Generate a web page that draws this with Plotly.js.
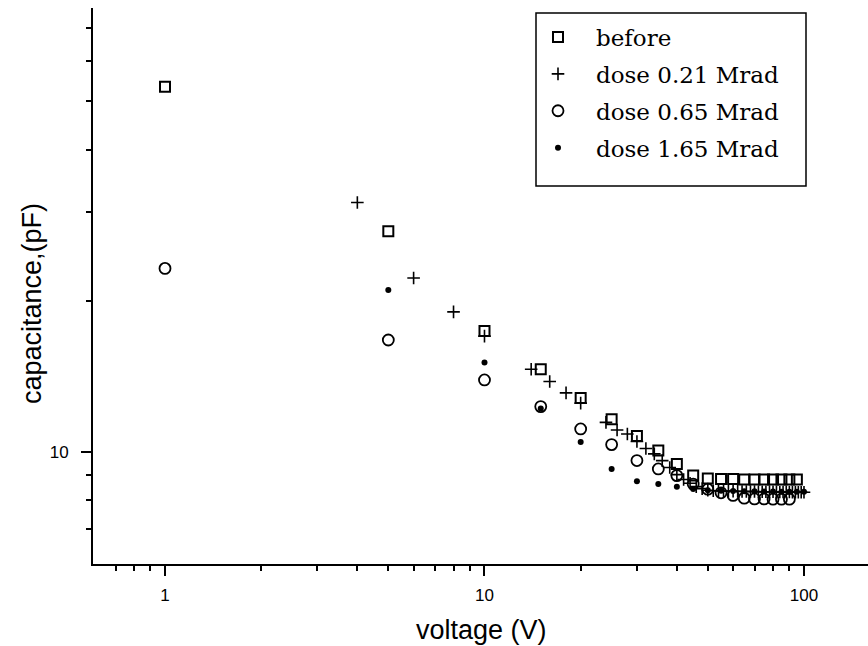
<!DOCTYPE html>
<html><head><meta charset="utf-8">
<script src="https://cdn.plot.ly/plotly-3.0.1.min.js"></script>
<style>html,body{margin:0;padding:0;background:#fff}</style>
</head><body>
<div id="chart" style="width:868px;height:646px"></div>
<script>
// ---- data ----
const seriesNames = ["before", "dose 0.21 Mrad", "dose 0.65 Mrad", "dose 1.65 Mrad"];

const beforeV = [1,5,10,15,20,25,30,35,40,45,50,55,60,65,70,75,80,85,90,95];
const beforeC = [53.4,27.5,17.4,14.6,12.8,11.6,10.75,10.05,9.45,8.96,8.84,8.82,8.82,8.8,8.8,8.8,8.8,8.8,8.8,8.8];

const dose021V = [4,6,8,10,14,16,18,20,24,26,28,30,32,34,36,38,40,42,44,46,48,50,52,54,56,58,60,62,64,66,68,70,72,74,76,78,80,82,84,86,88,90,92,94,96,98,100];
const dose021C = [31.4,22.2,19.0,17.0,14.6,13.8,13.1,12.5,11.44,11.05,10.85,10.48,10.15,9.9,9.6,9.3,9.0,8.8,8.65,8.52,8.44,8.38,8.36,8.35,8.35,8.34,8.34,8.34,8.33,8.33,8.33,8.33,8.32,8.32,8.32,8.32,8.32,8.31,8.31,8.31,8.31,8.31,8.3,8.3,8.3,8.3,8.3];

const dose065V = [1,5,10,15,20,25,30,35,40,45,50,55,60,65,70,75,80,85,90];
const dose065C = [23.2,16.7,13.9,12.3,11.1,10.33,9.6,9.24,8.96,8.62,8.42,8.28,8.18,8.08,8.05,8.05,8.04,8.04,8.04];

const dose165V = [5,10,15,20,25,30,35,40,45,50,55,60,65,70,75,80,85,90,95,100];
const dose165C = [21.0,15.06,12.2,10.45,9.24,8.73,8.62,8.51,8.43,8.38,8.36,8.35,8.34,8.34,8.33,8.33,8.32,8.32,8.32,8.32];

const xMajorTicks = [1, 10, 100];
const xMajorLabels = ["1", "10", "100"];
const xMinorTicks = [0.7,0.8,0.9,2,3,4,5,6,7,8,9,20,30,40,50,60,70,80,90];
const yMajorTicks = [10];
const yMajorLabels = ["10"];
const yMinorTicks = [7,8,9,20,30,40,50,60,70];

const xTitle = "voltage (V)";
const yTitle = "capacitance,(pF)";

// ---- traces ----
const traces = [
  {x: beforeV, y: beforeC, name: seriesNames[0], legendgroup: "a",
   marker: {symbol: "square-open", size: 10, color: "#000", line: {width: 2}}},
  {x: dose021V, y: dose021C, name: seriesNames[1], legendgroup: "b",
   marker: {symbol: "cross-thin-open", size: 9, color: "#000", line: {width: 1.6}}},
  {x: dose065V, y: dose065C, name: seriesNames[2], legendgroup: "c",
   marker: {symbol: "circle-open", size: 11, color: "#000", line: {width: 1.8}}},
  {x: dose165V, y: dose165C, name: seriesNames[3], legendgroup: "d",
   marker: {symbol: "circle", size: 6, color: "#000", line: {width: 0}}}
].map(t => Object.assign({type: "scatter", mode: "markers", cliponaxis: false}, t));

const L = 93, T = 8, B = 82, R = 0, W = 868, H = 646;
const pw = W - L - R, ph = H - T - B;
const px = x => (x - L) / pw;
const py = y => (T + ph - y) / ph;

const layout = {
  width: W, height: H,
  margin: {l: L, r: R, t: T, b: B, pad: 0},
  paper_bgcolor: "#fff", plot_bgcolor: "#fff",
  font: {family: "Liberation Sans, Arial, sans-serif", color: "#000", size: 17},
  showlegend: true,
  xaxis: {
    type: "log", range: [-0.22535, 2.20035], autorange: false,
    showgrid: false, zeroline: false, showline: true, linecolor: "#000", linewidth: 2,
    ticks: "outside", ticklen: 10, tickwidth: 2, tickcolor: "#000",
    tickmode: "array", tickvals: xMajorTicks, ticktext: xMajorLabels,
    tickfont: {size: 17, color: "#000"}, ticklabelstandoff: 5,
    minor: {tickmode: "array", tickvals: xMinorTicks, ticks: "outside", ticklen: 5, tickwidth: 2, tickcolor: "#000", showgrid: false}
  },
  yaxis: {
    type: "log", range: [0.7761, 1.8846], autorange: false,
    showgrid: false, zeroline: false, showline: true, linecolor: "#000", linewidth: 2,
    ticks: "outside", ticklen: 10, tickwidth: 2, tickcolor: "#000",
    tickmode: "array", tickvals: yMajorTicks, ticktext: yMajorLabels,
    tickfont: {size: 17, color: "#000"}, ticklabelstandoff: 9,
    minor: {tickmode: "array", tickvals: yMinorTicks, ticks: "outside", ticklen: 5, tickwidth: 2, tickcolor: "#000", showgrid: false}
  },
  legend: {
    x: px(520), y: py(15.5), xanchor: "left", yanchor: "top",
    bgcolor: "rgba(0,0,0,0)", borderwidth: 0,
    font: {family: "DejaVu Serif, serif", size: 23, color: "#000"},
    tracegroupgap: 4, traceorder: "grouped", itemwidth: 66
  },
  shapes: [
    {type: "rect", xref: "paper", yref: "paper", x0: px(536), x1: px(806), y0: py(186), y1: py(13),
     line: {color: "#000", width: 1.5}, fillcolor: "rgba(0,0,0,0)"}
  ],
  annotations: [
    {text: xTitle, xref: "paper", yref: "paper", x: px(481), y: py(630), xanchor: "center", yanchor: "middle",
     showarrow: false, font: {size: 27}},
    {text: yTitle, xref: "paper", yref: "paper", x: px(32), y: py(304), xanchor: "center", yanchor: "middle",
     textangle: -90, showarrow: false, font: {size: 27}}
  ]
};

Plotly.newPlot("chart", traces, layout, {displayModeBar: false, staticPlot: true});
</script>
</body></html>
